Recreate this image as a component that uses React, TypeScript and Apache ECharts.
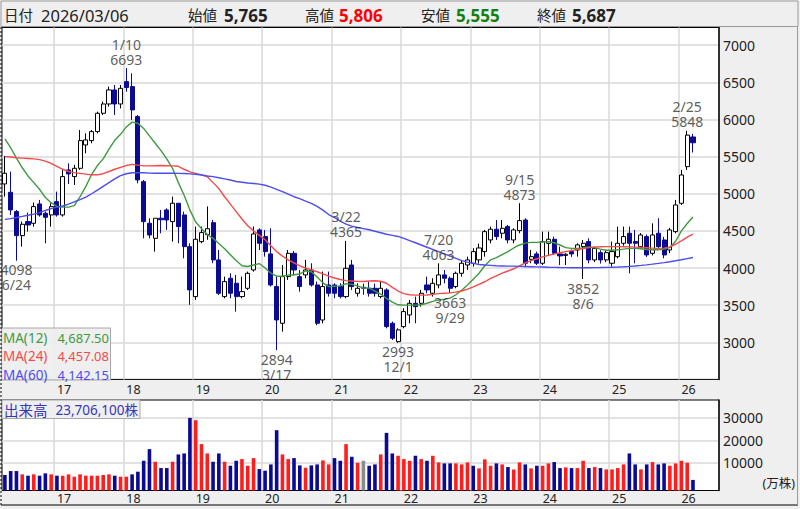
import React, { useEffect, useRef } from 'react';
import * as echarts from 'echarts';

// Monthly candles, April 2016 .. March 2026
const START_YEAR = 2016;
const START_MONTH = 4;
const EMPTY_SLOTS = 4;

const opens = [
  5132, 5020, 4760, 4436, 4625, 4602, 4863, 4737, 4715, 4894,
  4715, 5321, 5231, 5343, 5657, 5716, 5837, 6084, 6209, 6398,
  6209, 6510, 6443, 6039, 5163, 4603, 4400, 4670, 4782, 4625,
  4872, 4715, 4288, 3615, 4355, 4450, 4611, 4109, 3615, 3862,
  3794, 3615, 3727, 3974, 4513, 4423, 4190, 3750, 3256, 3884,
  4198, 3884, 3907, 3974, 3772, 3300, 3772, 3772, 3750, 3615,
  4041, 3660, 3740, 3727, 3727, 3615, 3705, 3256, 3009, 3211,
  3368, 3525, 3525, 3772, 3660, 3772, 3907, 3862, 3750, 3929,
  4041, 4064, 4109, 4221, 4378, 4522, 4468, 4558, 4378, 4504,
  4647, 4117, 4190, 4064, 4333, 4387, 4190, 4170, 4221, 4243,
  4288, 4356, 4109, 4207, 4109, 4064, 4153, 4333, 4468, 4356,
  4288, 4423, 4198, 4468, 4378, 4243, 4490, 4872, 5365, 5765,
];
const highs = [
  5509, 5298, 4782, 4625, 4746, 4881, 4917, 4760, 4872, 5029,
  5321, 5410, 5388, 5859, 5814, 5859, 6106, 6241, 6443, 6465,
  6465, 6693, 6622, 6061, 5186, 4670, 4670, 4782, 4804, 4961,
  4872, 4760, 4333, 4558, 4558, 4830, 4647, 4243, 3884, 3929,
  3907, 3884, 3952, 4558, 4535, 4513, 4535, 3884, 4041, 4243,
  4230, 3974, 4109, 4064, 3817, 3952, 3952, 3794, 3794, 4365,
  4109, 3794, 3790, 3817, 3790, 3817, 3727, 3278, 3188, 3458,
  3570, 3615, 3705, 3884, 3862, 4063, 3974, 3884, 3952, 4109,
  4153, 4266, 4330, 4513, 4558, 4647, 4647, 4580, 4535, 4873,
  4670, 4243, 4221, 4490, 4490, 4423, 4288, 4200, 4250, 4333,
  4378, 4400, 4290, 4240, 4240, 4356, 4558, 4558, 4558, 4513,
  4470, 4450, 4602, 4670, 4420, 4540, 4917, 5321, 5848, 5806,
];
const lows = [
  4961, 4715, 4098, 4288, 4490, 4557, 4692, 4333, 4557, 4692,
  4692, 5132, 5119, 5321, 5545, 5680, 5814, 6061, 6174, 6061,
  6150, 6375, 5994, 5141, 4400, 4400, 4221, 4468, 4513, 4355,
  4333, 4131, 3503, 3570, 4333, 4380, 4064, 3637, 3592, 3592,
  3413, 3592, 3705, 3952, 4243, 4153, 3750, 2894, 3143, 3840,
  3900, 3682, 3862, 3750, 3230, 3256, 3615, 3592, 3592, 3592,
  3705, 3615, 3640, 3615, 3615, 3592, 3188, 3031, 2993, 3188,
  3256, 3256, 3480, 3660, 3615, 3727, 3794, 3663, 3727, 3884,
  3974, 4019, 4060, 4153, 4333, 4378, 4400, 4333, 4333, 4468,
  4010, 4064, 4041, 4041, 4176, 4176, 4041, 4041, 4150, 4153,
  3852, 4064, 4080, 4060, 4080, 4019, 4130, 4300, 3929, 4064,
  4260, 4150, 4170, 4260, 4131, 4200, 4468, 4849, 5321, 5555,
];
const closes = [
  5276, 4782, 4436, 4589, 4580, 4827, 4715, 4683, 4827, 4715,
  5231, 5267, 5343, 5716, 5725, 5837, 6084, 6209, 6398, 6209,
  6420, 6430, 6129, 5186, 4625, 4445, 4670, 4650, 4647, 4872,
  4558, 4288, 3705, 4387, 4477, 4530, 4109, 3660, 3817, 3660,
  3615, 3682, 3929, 4459, 4333, 4221, 3772, 3300, 3884, 4198,
  3974, 3750, 3974, 3772, 3256, 3750, 3660, 3660, 3615, 3996,
  3750, 3727, 3727, 3660, 3660, 3727, 3211, 3054, 3166, 3413,
  3525, 3480, 3660, 3705, 3794, 3907, 3862, 3727, 3929, 4064,
  4109, 4221, 4270, 4490, 4522, 4423, 4535, 4378, 4513, 4638,
  4064, 4153, 4064, 4356, 4387, 4198, 4163, 4185, 4190, 4311,
  4333, 4109, 4266, 4109, 4207, 4221, 4333, 4423, 4333, 4333,
  4445, 4176, 4445, 4288, 4176, 4513, 4849, 5253, 5790, 5687,
];

// Monthly volume, unit: 万株
const volumes = [
  4545, 6320, 6320, 4840, 4250, 4840, 4250, 5290, 4840, 4250,
  4250, 4840, 3800, 4840, 4250, 4250, 4250, 4550, 4840, 4250,
  3800, 3800, 4840, 6030, 10910, 16100, 10470, 7650, 7650, 10470,
  13730, 14170, 30020, 28980, 18320, 14170, 10470, 14170, 10470, 8690,
  10910, 11650, 8690, 12100, 7210, 6470, 9280, 24540, 13730, 11650,
  12100, 8840, 7800, 8840, 9280, 11060, 9280, 12100, 10910, 18320,
  12690, 10020, 10910, 8690, 9280, 13730, 23350, 14170, 13140, 11650,
  10910, 13140, 11650, 10910, 13140, 10170, 9730, 9730, 9730, 9280,
  10170, 8690, 7510, 11510, 8690, 9730, 9280, 8100, 7060, 10170,
  9280, 7510, 8690, 8690, 9730, 10320, 7650, 7950, 7650, 7650,
  10910, 7650, 8100, 7650, 7060, 7060, 7650, 9280, 14170, 9280,
  7060, 9280, 10320, 9280, 9730, 8690, 9730, 10910, 10020, 2370.61,
];
// Close versus previous close, one letter per month: u = higher, d = lower, n = unchanged
const volumeDir = [
  'dddududdud', 'uuuuuuuuud', 'uudddduddu', 'ddduuuddud',
  'duuudddduu', 'ddudduuddu', 'dunddudduu', 'ududuudduu',
  'uduuududuu', 'duduuddudu', 'ududuuuudd', 'ududduuuud',
].join('');

const ma12 = [
  5740, 5620, 5480, 5350, 5240, 5150, 5060, 4950, 4880, 4830,
  4820, 4820, 4840, 4960, 5100, 5260, 5380, 5470, 5600, 5720,
  5800, 5900, 5965, 5950, 5880, 5780, 5680, 5580, 5470, 5340,
  5150, 4980, 4780, 4620, 4530, 4450, 4400, 4330, 4260, 4180,
  4100, 4030, 4020, 4040, 4060, 4000, 3930, 3890, 3890, 3905,
  3910, 3920, 3960, 3950, 3880, 3800, 3750, 3755, 3760, 3790,
  3780, 3760, 3730, 3730, 3690, 3650, 3590, 3540, 3505, 3500,
  3500, 3500, 3505, 3525, 3550, 3570, 3580, 3595, 3640, 3700,
  3770, 3850, 3930, 4030, 4110, 4140, 4180, 4220, 4270, 4310,
  4335, 4345, 4345, 4350, 4355, 4340, 4310, 4275, 4265, 4265,
  4270, 4285, 4275, 4255, 4240, 4240, 4245, 4255, 4265, 4265,
  4260, 4250, 4245, 4245, 4255, 4275, 4360, 4500, 4600, 4687.5,
];
const ma24 = [
  5500, 5495, 5485, 5480, 5475, 5470, 5460, 5440, 5410, 5370,
  5330, 5300, 5285, 5275, 5265, 5255, 5255, 5270, 5300, 5330,
  5355, 5380, 5395, 5385, 5375, 5375, 5378, 5380, 5378, 5375,
  5370, 5330, 5295, 5275, 5255, 5230, 5150, 5070, 4960, 4860,
  4760, 4660, 4570, 4500, 4440, 4380, 4300, 4220, 4160, 4110,
  4070, 4030, 4000, 3975, 3950, 3920, 3890, 3865, 3845, 3830,
  3825, 3820, 3818, 3825, 3828, 3822, 3795, 3740, 3690, 3655,
  3640, 3635, 3635, 3636, 3645, 3655, 3660, 3665, 3675, 3690,
  3715, 3745, 3780, 3815, 3860, 3895, 3930, 3960, 3990, 4030,
  4070, 4100, 4125, 4150, 4170, 4190, 4205, 4220, 4235, 4250,
  4262, 4275, 4282, 4287, 4288, 4288, 4288, 4287, 4285, 4282,
  4278, 4273, 4268, 4265, 4268, 4285, 4320, 4365, 4415, 4457.08,
];
const ma60 = [
  4655, 4665, 4680, 4695, 4710, 4725, 4745, 4775, 4800, 4820,
  4835, 4860, 4890, 4920, 4955, 5000, 5050, 5100, 5150, 5200,
  5245, 5270, 5283, 5285, 5282, 5278, 5276, 5276, 5276, 5276,
  5274, 5272, 5268, 5262, 5252, 5240, 5230, 5215, 5200, 5185,
  5165, 5155, 5145, 5138, 5130, 5115, 5090, 5060, 5030, 4995,
  4960, 4935, 4900, 4870, 4830, 4780, 4720, 4680, 4630, 4590,
  4565, 4545, 4530, 4515, 4495, 4475, 4455, 4440, 4425, 4400,
  4370, 4340, 4310, 4280, 4250, 4220, 4190, 4160, 4130, 4100,
  4080, 4062, 4048, 4040, 4035, 4030, 4028, 4025, 4025, 4022,
  4020, 4018, 4016, 4013, 4010, 4008, 4006, 4005, 4004, 4003,
  4003, 4004, 4005, 4006, 4008, 4010, 4013, 4017, 4022, 4028,
  4035, 4043, 4052, 4062, 4073, 4085, 4098, 4112, 4127, 4142.15,
];

// Marked highs and lows: candle index, date of the extreme
const extremes = [
  { i: 2, date: '6/24', kind: 'low' },
  { i: 21, date: '1/10', kind: 'high' },
  { i: 47, date: '3/17', kind: 'low' },
  { i: 59, date: '3/22', kind: 'high' },
  { i: 68, date: '12/1', kind: 'low' },
  { i: 75, date: '7/20', kind: 'high' },
  { i: 77, date: '9/29', kind: 'low' },
  { i: 89, date: '9/15', kind: 'high' },
  { i: 100, date: '8/6', kind: 'low' },
  { i: 118, date: '2/25', kind: 'high' },
];

const priceTicks = [3000, 3500, 4000, 4500, 5000, 5500, 6000, 6500, 7000];
const volumeTicks = [10000, 20000, 30000];

const header = {
  date: '2026/03/06',
  open: '5,765',
  high: '5,806',
  low: '5,555',
  close: '5,687',
};
const maLegend = [
  { name: 'MA(12)', value: '4,687.50', color: '#3f993f' },
  { name: 'MA(24)', value: '4,457.08', color: '#f24b4b' },
  { name: 'MA(60)', value: '4,142.15', color: '#4c4cf0' },
];
const volumeTitle = { name: '出来高', value: '23,706,100株' };

const FONT = '"Noto Sans", "Noto Sans CJK JP", sans-serif';
const NAVY = '#0a0a94';
const UP_RED = '#ff1e1e';
const FLAT_GRAY = '#8c8c8c';
const GRID_LINE = '#d9d9d9';

const PRICE_MIN = 2500;
const PRICE_MAX = 7239;
const VOL_MIN = -2350;
const VOL_MAX = 38000;

function monthCategories(): string[] {
  const out: string[] = [];
  const total = closes.length + EMPTY_SLOTS;
  for (let k = 0; k < total; k++) {
    const m = START_MONTH - 1 + k;
    const y = START_YEAR + Math.floor(m / 12);
    out.push(`${y}/${String((m % 12) + 1).padStart(2, '0')}`);
  }
  return out;
}

function buildOption() {
  const cats = monthCategories();
  const isJanuary = (_i: number, v: string) => v.endsWith('/01');

  const candles = opens.map((o, i) => [o, closes[i], lows[i], highs[i]]);
  const volData = volumes.map((v, i) => [i, v, volumeDir[i] === 'u' ? 1 : volumeDir[i] === 'd' ? -1 : 0]);

  const extremeData = extremes.map((e) => {
    const v = e.kind === 'high' ? highs[e.i] : lows[e.i];
    return {
      value: [e.i, v],
      label: {
        position: e.kind === 'high' ? 'top' : 'bottom',
        formatter: e.kind === 'high' ? `${e.date}\n${v}` : `${v}\n${e.date}`,
      },
    };
  });

  const xAxisBase = {
    type: 'category',
    data: cats,
    boundaryGap: true,
    axisLine: { show: false },
    axisTick: { show: false },
    splitLine: { show: true, interval: isJanuary, lineStyle: { color: GRID_LINE, width: 1.5 } },
    axisLabel: {
      show: true,
      interval: isJanuary,
      formatter: (v: string) => v.slice(2, 4),
      align: 'left',
      color: '#222',
      fontFamily: FONT,
      fontSize: 12.5,
    },
  };

  const text = (x: number, y: number, t: string, extra: any = {}) => ({
    type: 'text',
    x,
    y,
    z: 100,
    silent: true,
    style: {
      text: t,
      fill: '#222',
      fontFamily: FONT,
      fontSize: 14,
      verticalAlign: 'middle',
      align: 'left',
      ...extra,
    },
  });

  const graphic: any[] = [
    // header bar
    { type: 'rect', z: 90, silent: true, shape: { x: 1, y: 1, width: 797, height: 25.5 }, style: { fill: '#efefef', stroke: '#9a9a9a', lineWidth: 1 } },
    text(4, 15, '日付', { fontSize: 14.5 }),
    text(41, 15, header.date, { fontSize: 16.5 }),
    text(188, 15, '始値', { fontSize: 14.5 }),
    text(224, 15, header.open, { fontSize: 17, fontWeight: 'bold' }),
    text(305, 15, '高値', { fontSize: 14.5 }),
    text(339, 15, header.high, { fontSize: 17, fontWeight: 'bold', fill: '#ff0000' }),
    text(421, 15, '安値', { fontSize: 14.5 }),
    text(456, 15, header.low, { fontSize: 17, fontWeight: 'bold', fill: '#128012' }),
    text(537, 15, '終値', { fontSize: 14.5 }),
    text(572, 15, header.close, { fontSize: 17, fontWeight: 'bold' }),
    // moving-average legend
    { type: 'rect', z: 90, silent: true, shape: { x: 1.5, y: 328, width: 109, height: 52 }, style: { fill: 'rgba(238,238,238,0.92)', stroke: '#a8a8a8', lineWidth: 1 } },
    ...maLegend.flatMap((m, k) => [
      text(3, 338 + k * 18.3, m.name, { fill: m.color, fontSize: 13.5 }),
      text(109, 338 + k * 18.3, m.value, { fill: m.color, fontSize: 13, align: 'right' }),
    ]),
    // volume title
    { type: 'rect', z: 90, silent: true, shape: { x: 2, y: 400, width: 138, height: 18.5 }, style: { fill: '#efefef', stroke: '#a8a8a8', lineWidth: 1 } },
    text(4, 409.5, volumeTitle.name, { fill: '#3636b8', fontSize: 14.5 }),
    text(138, 409.5, volumeTitle.value, { fill: '#3636b8', fontSize: 13.5, align: 'right' }),
    text(795, 483, '(万株)', { fontSize: 12.5, align: 'right' }),
    // frame lines
    { type: 'line', z: 95, silent: true, shape: { x1: 1, y1: 27, x2: 1, y2: 505 }, style: { stroke: '#000', lineWidth: 1, lineDash: [2, 2] } },
    { type: 'line', z: 95, silent: true, shape: { x1: 1, y1: 505, x2: 798, y2: 505 }, style: { stroke: '#000', lineWidth: 1.2 } },
    { type: 'line', z: 95, silent: true, shape: { x1: 797.5, y1: 27, x2: 797.5, y2: 505 }, style: { stroke: '#9a9a9a', lineWidth: 1 } },
  ];

  const plainNumber = (v: number) => String(v);

  return {
    animation: false,
    backgroundColor: '#efefef',
    textStyle: { fontFamily: FONT },
    grid: [
      { left: 2, top: 27.5, width: 717, height: 351.9, show: true, backgroundColor: '#ffffff', borderColor: '#000', borderWidth: 1 },
      { left: 2, top: 400, width: 717, height: 90.5, show: true, backgroundColor: '#ffffff', borderColor: '#000', borderWidth: 1 },
    ],
    xAxis: [
      { ...xAxisBase, gridIndex: 0, axisLabel: { ...xAxisBase.axisLabel, margin: 4 } },
      { ...xAxisBase, gridIndex: 1, axisLabel: { ...xAxisBase.axisLabel, margin: 1.5 } },
    ],
    yAxis: [
      {
        type: 'value',
        gridIndex: 0,
        position: 'right',
        min: PRICE_MIN,
        max: PRICE_MAX,
        axisLine: { show: true, lineStyle: { color: '#000', width: 1.5 } },
        axisTick: { show: false, customValues: priceTicks },
        splitLine: { show: true, lineStyle: { color: GRID_LINE, width: 1.5 } },
        axisLabel: { customValues: priceTicks, formatter: plainNumber, color: '#222', fontFamily: FONT, fontSize: 14, margin: 4 },
      },
      {
        type: 'value',
        gridIndex: 1,
        position: 'right',
        min: VOL_MIN,
        max: VOL_MAX,
        axisLine: { show: true, lineStyle: { color: '#000', width: 1.5 } },
        axisTick: { show: false, customValues: volumeTicks },
        splitLine: { show: true, lineStyle: { color: GRID_LINE, width: 1.5 } },
        axisLabel: { customValues: volumeTicks, formatter: plainNumber, color: '#222', fontFamily: FONT, fontSize: 14, margin: 4 },
      },
    ],
    series: [
      {
        name: 'price',
        type: 'candlestick',
        xAxisIndex: 0,
        yAxisIndex: 0,
        data: candles,
        barWidth: 4.6,
        z: 3,
        itemStyle: {
          color: '#ffffff',
          color0: NAVY,
          borderColor: '#000000',
          borderColor0: NAVY,
          borderWidth: 1,
        },
      },
      ...[
        { name: 'MA12', data: ma12, color: '#3f993f' },
        { name: 'MA24', data: ma24, color: '#f24b4b' },
        { name: 'MA60', data: ma60, color: '#4c4cf0' },
      ].map((m) => ({
        name: m.name,
        type: 'line',
        xAxisIndex: 0,
        yAxisIndex: 0,
        data: m.data,
        showSymbol: false,
        symbol: 'none',
        z: 4,
        lineStyle: { color: m.color, width: 1.4 },
      })),
      {
        name: 'extremes',
        type: 'scatter',
        xAxisIndex: 0,
        yAxisIndex: 0,
        symbolSize: 1,
        itemStyle: { color: 'rgba(0,0,0,0)' },
        z: 5,
        data: extremeData,
        label: {
          show: true,
          distance: 1,
          color: '#333',
          fontFamily: FONT,
          fontSize: 14,
          lineHeight: 15,
          align: 'center',
        },
      },
      {
        name: 'volume',
        type: 'custom',
        xAxisIndex: 1,
        yAxisIndex: 1,
        data: volData,
        encode: { x: 0, y: 1 },
        z: 3,
        renderItem: (_params: any, api: any) => {
          const idx = api.value(0);
          const v = api.value(1);
          const dir = api.value(2);
          const top = api.coord([idx, v]);
          const base = api.coord([idx, VOL_MIN]);
          const w = 3.6;
          return {
            type: 'rect',
            shape: { x: top[0] - w / 2, y: top[1], width: w, height: base[1] - top[1] },
            style: { fill: dir > 0 ? UP_RED : dir < 0 ? NAVY : FLAT_GRAY },
          };
        },
      },
    ],
    graphic,
  };
}

export default function App() {
  const ref = useRef<HTMLDivElement>(null);
  useEffect(() => {
    if (!ref.current) return;
    const chart = echarts.init(ref.current, undefined, { renderer: 'svg' });
    chart.setOption(buildOption() as any);
    return () => chart.dispose();
  }, []);
  return (
    <div
      ref={ref}
      style={{ position: 'fixed', left: 0, top: 0, width: 800, height: 509 }}
    />
  );
}
